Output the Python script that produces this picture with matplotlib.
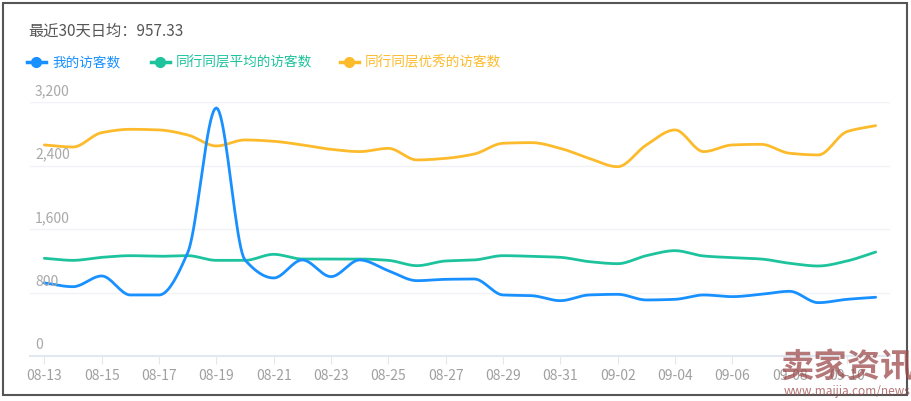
import matplotlib.pyplot as plt
import numpy as np
from matplotlib.lines import Line2D
from matplotlib.patches import Rectangle

plt.rcParams['font.family'] = ['Noto Sans CJK SC', 'DejaVu Sans']

dates = ['08-13', '08-14', '08-15', '08-16', '08-17', '08-18', '08-19', '08-20', '08-21', '08-22',
         '08-23', '08-24', '08-25', '08-26', '08-27', '08-28', '08-29', '08-30', '08-31', '09-01',
         '09-02', '09-03', '09-04', '09-05', '09-06', '09-07', '09-08', '09-09', '09-10', '09-11']
mine = [920, 873, 1008, 769, 769, 1300, 3125, 1210, 983, 1210,
        1000, 1210, 1075, 949, 966, 970, 769, 760, 697, 769,
        777, 706, 714, 769, 748, 777, 815, 672, 714, 740]
peer_avg = [1231, 1205, 1243, 1264, 1256, 1264, 1205, 1205, 1281, 1222,
            1222, 1222, 1205, 1138, 1197, 1210, 1264, 1256, 1243, 1189,
            1163, 1264, 1327, 1260, 1239, 1222, 1168, 1134, 1197, 1310]
peer_top = [2659, 2633, 2814, 2856, 2848, 2785, 2646, 2722, 2705, 2659,
            2604, 2575, 2616, 2470, 2490, 2545, 2680, 2688, 2616, 2490,
            2385, 2659, 2848, 2575, 2659, 2667, 2554, 2533, 2827, 2902]
names = ['我的访客数', '同行同层平均的访客数', '同行同层优秀的访客数']
colors = ['#1890ff', '#1dc39d', '#fdbb2c']
yticks = [0, 800, 1600, 2400, 3200]


def monotone(x, y, n=20):
    # monotone cubic (Fritsch-Carlson) just for drawing the smooth line
    x = np.asarray(x, float)
    y = np.asarray(y, float)
    h = np.diff(x)
    d = np.diff(y) / h
    m = np.zeros_like(y)
    m[0], m[-1] = d[0], d[-1]
    for k in range(1, len(y) - 1):
        if d[k - 1] * d[k] > 0:
            m[k] = 2 / (1 / d[k - 1] + 1 / d[k])
    xs, ys = [], []
    for k in range(len(y) - 1):
        t = np.linspace(0, 1, n, endpoint=False)
        h00 = 2 * t**3 - 3 * t**2 + 1
        h10 = t**3 - 2 * t**2 + t
        h01 = -2 * t**3 + 3 * t**2
        h11 = t**3 - t**2
        xs.append(x[k] + t * h[k])
        ys.append(h00 * y[k] + h10 * h[k] * m[k] + h01 * y[k + 1] + h11 * h[k] * m[k + 1])
    xs.append([x[-1]])
    ys.append([y[-1]])
    return np.concatenate(xs), np.concatenate(ys)


W, H = 912, 401
fig = plt.figure(figsize=(W / 100, H / 100), dpi=100)
ax = fig.add_axes([30 / W, 45 / H, 860 / W, 254 / H])

xi = np.arange(len(dates))
for vals, c in zip([peer_top, peer_avg, mine], [colors[2], colors[1], colors[0]]):
    sx, sy = monotone(xi, vals)
    ax.plot(sx, sy, color=c, lw=2, solid_capstyle='round', zorder=3)

ax.set_xlim(-0.5, len(dates) - 0.5)
ax.set_ylim(0, 3200)
ax.set_yticks(yticks)
ax.set_yticklabels([])
ax.tick_params(axis='y', length=0)
for v in yticks:
    ax.axhline(v, color='#f0f2f8', lw=1, zorder=1)
    # labels sit a little above their grid line
    ax.text(5 / 860, v + 50, f'{v:,}', transform=ax.get_yaxis_transform(),
            ha='left', va='bottom', fontsize=10, color='#a8a8a8')

ax.set_xticks(xi[::2])
ax.set_xticklabels(dates[::2], fontsize=10, color='#a0a0a0')
ax.tick_params(axis='x', length=6, color='#e3e8f0', pad=3)
for s in ['top', 'right', 'left']:
    ax.spines[s].set_visible(False)
ax.spines['bottom'].set_color('#e3e8f0')
ax.spines['bottom'].set_linewidth(1.5)

fig.text(28 / W, 1 - 31 / H, '最近30天日均：957.33', fontsize=11, color='#555555',
         ha='left', va='center')

legend_x = [27, 151, 340]
for lx, name, c in zip(legend_x, names, colors):
    yy = 1 - 62 / H
    fig.add_artist(Line2D([lx / W, (lx + 19) / W], [yy, yy], color=c, lw=2.5,
                          transform=fig.transFigure))
    fig.add_artist(Line2D([(lx + 9.5) / W], [yy], color=c, marker='o', markersize=7,
                          transform=fig.transFigure))
    fig.text((lx + 25) / W, yy, name, fontsize=9.8, color=c, ha='left', va='center')

# watermark
fig.text(780 / W, 1 - 368 / H, '卖家资讯', fontsize=24, fontweight='bold', color='#9c4a4a',
         alpha=0.75, ha='left', va='center')
fig.text(784 / W, 1 - 391 / H, 'www.maijia.com/news', fontsize=8.5, color='#9c4a4a',
         alpha=0.75, ha='left', va='center')

fig.add_artist(Rectangle((3 / W, 1 - 395 / H), 904 / W, 392 / H, fill=False,
                         edgecolor='#555555', lw=1.5, transform=fig.transFigure))

fig.savefig('out.png', dpi=100)
